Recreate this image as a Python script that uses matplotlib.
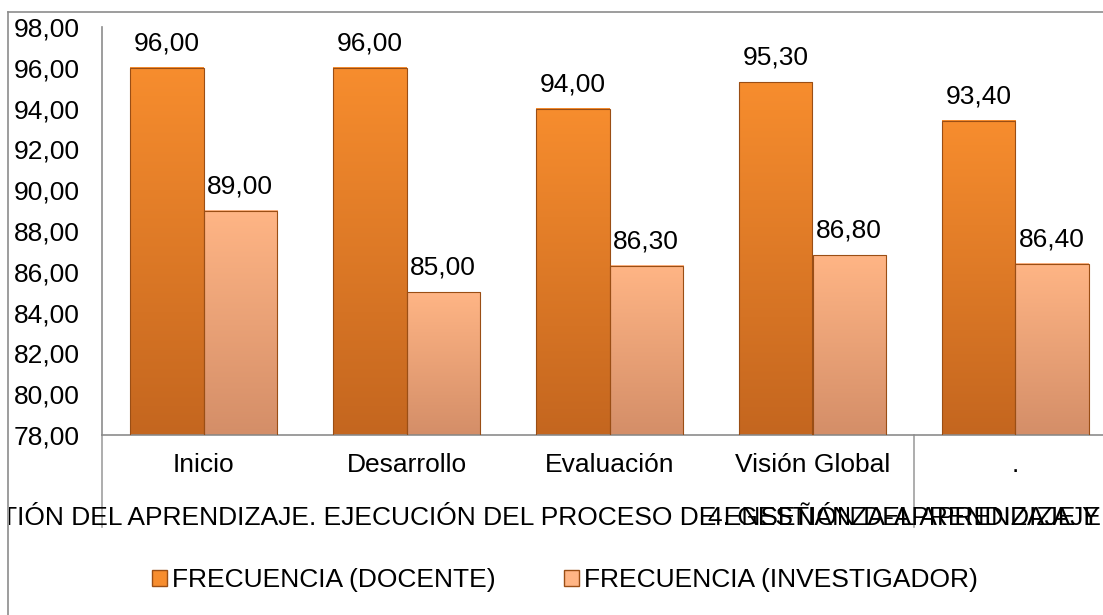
import numpy as np
import matplotlib
matplotlib.use('Agg')
import matplotlib.pyplot as plt
from matplotlib.patches import Patch
from matplotlib.lines import Line2D
from matplotlib.colors import LinearSegmentedColormap
from matplotlib.transforms import Bbox, TransformedBbox

plt.rcParams['font.family'] = ['Liberation Sans', 'DejaVu Sans']

# datos
categorias = ['Inicio', 'Desarrollo', 'Evaluación', 'Visión Global', '.']
docente = [96.00, 96.00, 94.00, 95.30, 93.40]
investigador = [89.00, 85.00, 86.30, 86.80, 86.40]
series = ['FRECUENCIA (DOCENTE)', 'FRECUENCIA (INVESTIGADOR)']
grupo_a = '4. GESTIÓN DEL APRENDIZAJE. EJECUCIÓN DEL PROCESO DE ENSEÑANZA-APRENDIZAJE Y'
grupo_b = '4. GESTIÓN DEL APRENDIZAJE'
yticks = np.arange(78, 99, 2)

# colores (arriba, abajo)
col_doc = ('#F78D2E', '#C4661F')
col_inv = ('#FFB585', '#D48E68')

W, H = 1103, 615
fig = plt.figure(figsize=(W / 100, H / 100), dpi=100)
# area de trazado, se sale por la derecha como en el original
ax = fig.add_axes([102 / W, (H - 435) / H, (1117 - 102) / W, (435 - 27) / H])

fs = 19
x = np.arange(len(categorias))
bw = 0.36


def coma(v):
    return ('%.2f' % v).replace('.', ',')


def gradient_bars(xs, vals, cols):
    cmap = LinearSegmentedColormap.from_list('g', [cols[1], cols[0]])
    grad = np.linspace(0, 1, 256).reshape(-1, 1)
    for xi, v in zip(xs, vals):
        ax.imshow(grad, extent=(xi - bw / 2, xi + bw / 2, 78, v), origin='lower',
                  cmap=cmap, aspect='auto', zorder=2)
        ax.bar(xi, v - 78, bw, bottom=78, facecolor='none',
               edgecolor='#9A4E15', linewidth=0.8, zorder=3)
        ax.annotate(coma(v), (xi, v), xytext=(0, 9), textcoords='offset points',
                    ha='center', va='bottom', fontsize=fs)


gradient_bars(x - bw / 2, docente, col_doc)
gradient_bars(x + bw / 2, investigador, col_inv)

ax.set_xlim(-0.5, len(categorias) - 0.5)
ax.set_ylim(78, 98)
ax.set_yticks(yticks)
ax.set_yticklabels([coma(t) for t in yticks], fontsize=fs)
ax.set_xticks(x)
ax.set_xticklabels(categorias, fontsize=fs)
ax.tick_params(axis='y', length=0, pad=16)
ax.tick_params(axis='x', length=0, pad=13)
for s in ['top', 'right']:
    ax.spines[s].set_visible(False)
for s in ['left', 'bottom']:
    ax.spines[s].set_color('#8C8C8C')
    ax.spines[s].set_linewidth(1.2)

# separadores del eje de categorias multinivel
for xs in [-0.5, 3.5]:
    ax.plot([xs, xs], [0, -0.225], transform=ax.get_xaxis_transform(),
            color='#A0A0A0', lw=1.2, clip_on=False)

# etiquetas del segundo nivel (superpuestas)
clip = TransformedBbox(Bbox([[9 / W, 0], [1, 1]]), fig.transFigure)
ta = fig.text(1100 / W, (H - 518) / H, grupo_a, ha='right', va='center', fontsize=fs)
ta.set_clip_box(clip)
ta.set_clip_on(True)
fig.text(708 / W, (H - 518) / H, grupo_b, ha='left', va='center', fontsize=fs)

# borde exterior del grafico
fig.add_artist(Line2D([8 / W, 1], [(H - 12) / H] * 2, color='#8C8C8C', lw=1.2))
fig.add_artist(Line2D([8 / W] * 2, [(H - 12) / H, 0], color='#8C8C8C', lw=1.2))

handles = [Patch(facecolor=col_doc[0], edgecolor='#9A4E15'),
           Patch(facecolor=col_inv[0], edgecolor='#9A4E15')]
fig.legend(handles, series, loc='center', bbox_to_anchor=(565 / W, (H - 580) / H),
           ncol=2, frameon=False, fontsize=fs, handlelength=0.55, handleheight=0.55,
           handletextpad=0.2, columnspacing=2.6, borderaxespad=0)

fig.savefig('out.png', dpi=100)
